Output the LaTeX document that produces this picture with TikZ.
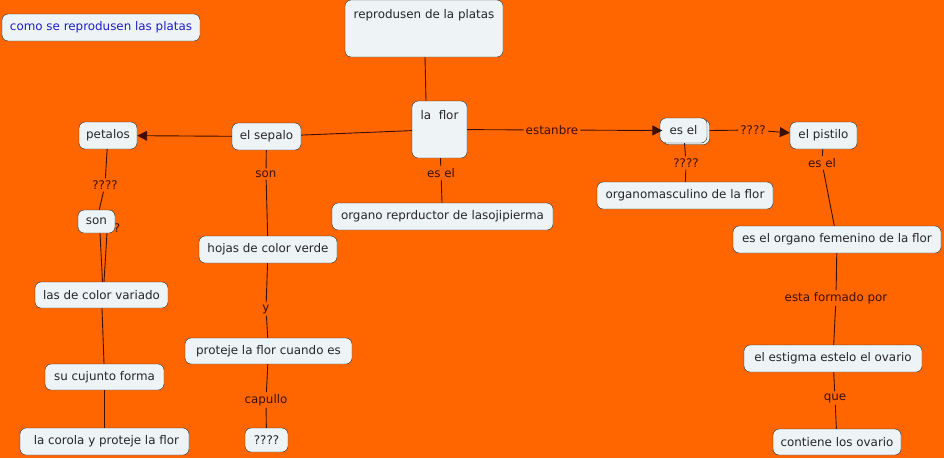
\documentclass[tikz,border=0pt]{standalone}
\usepackage{fontspec}
\setmainfont{DejaVu Sans}
\usetikzlibrary{arrows.meta}
\definecolor{bgorange}{RGB}{255,102,0}
\definecolor{boxfill}{RGB}{238,243,246}
\definecolor{linkbrown}{RGB}{60,15,0}
\definecolor{titleblue}{RGB}{30,30,200}

\begin{document}
\begin{tikzpicture}[x=1pt,y=-1pt,>={Triangle[length=10pt,width=10pt]}]
\tikzstyle{every node}=[font=\fontsize{11.9}{13}\selectfont]
\tikzstyle{concept}=[rectangle,rounded corners=6pt,draw=black!85,fill=boxfill,text=black!85,inner xsep=4pt,minimum height=27pt]
\tikzstyle{bigbox}=[concept,text height=14pt,text depth=35pt,inner ysep=4pt]
\tikzstyle{phrase}=[fill=bgorange,text=linkbrown,inner sep=2pt]
\tikzstyle{link}=[draw=linkbrown,line width=0.9pt]
\useasboundingbox[fill=bgorange] (0,0) rectangle (944,458);

% concepts
\node[concept,text=titleblue,minimum width=198pt] (title) at (101,27.5) {como se reprodusen las platas};
\node[bigbox,minimum width=158pt] (top) at (424,28.5) {reprodusen de la platas};
\node[bigbox,minimum width=55pt] (flor) at (439.5,129.5) {la\ \ flor};
\node[concept,minimum width=58pt] (petalos) at (108,135.5) {petalos};
\node[concept,minimum width=69pt] (sepalo) at (266.5,136.5) {el sepalo};
\node[phrase] (hidden) at (107.5,228) {????};
\node[concept,minimum width=37pt,minimum height=23pt] (son) at (96.5,221.5) {son};
\node[concept,minimum width=133pt,minimum height=26pt] (variado) at (101.5,295) {las de color variado};
\node[concept,minimum width=119pt,minimum height=26pt] (cujunto) at (104.5,377) {su cujunto forma};
\node[concept,minimum width=169pt] (corola) at (104.5,441.5) {\ la corola y proteje la flor};
\node[concept,minimum width=138pt] (hojas) at (268,249.5) {hojas de color verde};
\node[concept,minimum width=167pt,minimum height=26pt] (proteje) at (268.5,351) {proteje la flor cuando es\ };
\node[concept,minimum width=43pt,minimum height=24pt] (nada) at (266.5,440) {????};
\node[concept,minimum width=221pt] (organo) at (442.5,216.5) {organo reprductor de lasojipierma};
\node[concept,minimum width=47pt,minimum height=25pt] (eselshadow) at (686,132) {};
\node[concept,minimum width=47pt,minimum height=25pt] (esel) at (683.5,130.5) {es el};
\node[concept,minimum width=176pt] (masculino) at (685,195.5) {organomasculino de la flor};
\node[concept,minimum width=67pt] (pistilo) at (823.5,135.5) {el pistilo};
\node[concept,minimum width=208pt] (femenino) at (837,239.5) {es el organo femenino de la flor};
\node[concept,minimum width=178pt] (estigma) at (833,358.5) {el estigma estelo el ovario\ };
\node[concept,minimum width=128pt,minimum height=26pt] (ovario) at (837,442) {contiene los ovario};

% linking phrases
\node[phrase] (pregpet) at (105,185) {????};
\node[phrase] (sonsep) at (266,174) {son};
\node[phrase] (yy) at (266,309) {y};
\node[phrase] (capullo) at (266,400) {capullo};
\node[phrase] (eselflor) at (441,173) {es el};
\node[phrase] (estanbre) at (552,130) {estanbre};
\node[phrase] (pregmasc) at (686,163) {????};
\node[phrase] (pregpist) at (753,130) {????};
\node[phrase] (eselpist) at (822,163) {es el};
\node[phrase] (formado) at (836,298) {esta formado por};
\node[phrase] (que) at (835,398) {que};

% connectors
\draw[link] ([xshift=1pt]top.south) -- ([xshift=-13.5pt]flor.north);
\draw[link] (flor) -- (sepalo);
\draw[link,->] (sepalo) -- (petalos);
\draw[link] (petalos) -- (pregpet);
\draw[link] (pregpet) -- (son);
\draw[link] ([xshift=3.5pt]son.south) -- ([xshift=1pt]variado.north);
\draw[link] ([xshift=10.5pt]son.south) -- ([xshift=2.5pt]variado.north);
\draw[link] (variado) -- (cujunto);
\draw[link] (cujunto) -- (corola);
\draw[link] (sepalo) -- (sonsep);
\draw[link] (sonsep) -- (hojas);
\draw[link] (hojas) -- (yy);
\draw[link] (yy) -- (proteje);
\draw[link] (proteje) -- (capullo);
\draw[link] (capullo) -- (nada);
\draw[link] (flor) -- (eselflor);
\draw[link] (eselflor) -- (organo);
\draw[link] (flor) -- (estanbre);
\draw[link,->] (estanbre) -- (eselshadow.west|-esel.west);
\draw[link] (eselshadow.east|-esel.east) -- (pregpist);
\draw[link,->] (pregpist) -- (pistilo);
\draw[link] (esel) -- (pregmasc);
\draw[link] (pregmasc) -- (masculino);
\draw[link] (pistilo) -- (eselpist);
\draw[link] (eselpist) -- (femenino);
\draw[link] (femenino) -- (formado);
\draw[link] (formado) -- (estigma);
\draw[link] (estigma) -- (que);
\draw[link] (que) -- (ovario);
\end{tikzpicture}
\end{document}
